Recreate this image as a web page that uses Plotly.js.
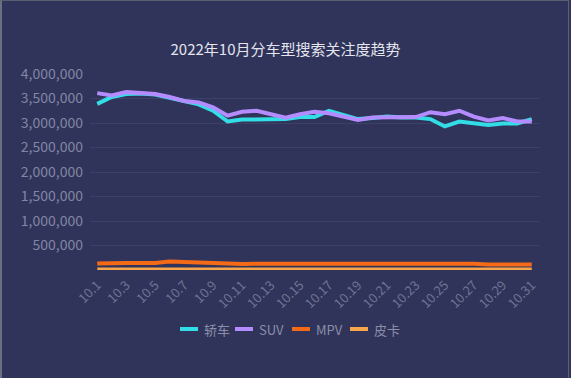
<!DOCTYPE html>
<html>
<head>
<meta charset="utf-8">
<script src="https://cdn.plot.ly/plotly-3.0.1.min.js"></script>
<style>
html,body{margin:0;padding:0;background:#30345a;}
#wrap{position:absolute;left:0;top:0;width:571px;height:378px;background:#30345a;}
#frame{position:absolute;left:0;top:0;width:566px;height:377px;border-left:2px solid #6b6f80;border-top:1px solid #5a5e70;border-right:1px solid #5d6177;pointer-events:none;}
#chart{position:absolute;left:0;top:0;width:571px;height:378px;}
</style>
</head>
<body>
<div id="wrap"><div id="chart"></div><div id="frame"></div></div>
<script>
const days = ["10.1","10.2","10.3","10.4","10.5","10.6","10.7","10.8","10.9","10.10",
  "10.11","10.12","10.13","10.14","10.15","10.16","10.17","10.18","10.19","10.20",
  "10.21","10.22","10.23","10.24","10.25","10.26","10.27","10.28","10.29","10.30","10.31"];
const tickLabels = ["10.1","10.3","10.5","10.7","10.9","10.11","10.13","10.15","10.17","10.19",
  "10.21","10.23","10.25","10.27","10.29","10.31"];
const sedan = [3390000,3530000,3590000,3600000,3580000,3510000,3430000,3380000,3250000,3030000,
  3070000,3080000,3070000,3080000,3120000,3120000,3250000,3160000,3080000,3100000,
  3130000,3110000,3110000,3080000,2930000,3030000,2990000,2960000,2990000,2990000,3080000];
const suv = [3610000,3560000,3630000,3620000,3590000,3530000,3450000,3420000,3320000,3150000,
  3230000,3250000,3180000,3110000,3180000,3230000,3200000,3130000,3060000,3110000,
  3110000,3120000,3120000,3220000,3180000,3250000,3130000,3050000,3100000,3030000,3030000];
const mpv = [132000,145000,145000,145000,145000,172000,160000,150000,145000,135000,
  122000,128000,128000,126000,128000,128000,130000,128000,126000,125000,
  125000,125000,124000,126000,130000,135000,128000,112000,110000,110000,110000];
const pickup = [22000,22000,22000,22000,22000,22000,22000,22000,22000,22000,
  22000,22000,22000,22000,22000,22000,22000,22000,22000,22000,
  22000,22000,22000,22000,22000,22000,22000,20000,20000,20000,20000];
const names = ["轿车","SUV","MPV","皮卡"];
const colors = ["#33dde6","#b48cff","#f56a16","#f5a54c"];
const series = [sedan, suv, mpv, pickup];
const widths = [4,4,4,3];

const traces = series.map((s,i)=>({
  type:"scatter", mode:"lines", x:days, y:s, name:names[i],
  line:{color:colors[i], width:widths[i]}, hoverinfo:"skip", showlegend:false
}));

// geometry of the plot area (px)
const W=571, H=378, ML=90, MR=32, MT=74, MB=108;
const PW=W-ML-MR, PH=H-MT-MB;
const px2x = p => (p-ML)/PW;
const py2y = p => (H-MB-p)/PH;

// custom legend: short thick line + label
const legendStart = [180, 235, 292, 350];
const legendY = 329, symLen = 18, gap = 4;
const shapes = names.map((n,i)=>({
  type:"line", xref:"paper", yref:"paper",
  x0:px2x(legendStart[i]), x1:px2x(legendStart[i]+symLen),
  y0:py2y(legendY), y1:py2y(legendY),
  line:{color:colors[i], width:4}
}));
const font = "'Noto Sans CJK SC','Noto Sans',sans-serif";
const annotations = names.map((n,i)=>({
  text:n, xref:"paper", yref:"paper", x:px2x(legendStart[i]+symLen+gap), y:py2y(legendY),
  xanchor:"left", yanchor:"middle", showarrow:false,
  font:{family:font, size:13, color:"#8a8ea8"}
}));

const layout = {
  width:W, height:H,
  paper_bgcolor:"#30345a", plot_bgcolor:"#30345a",
  margin:{l:ML, r:MR, t:MT, b:MB},
  font:{family:font, color:"#8a8ea8"},
  title:{text:"2022年10月分车型搜索关注度趋势", font:{family:font, size:15, color:"#e4e5ee"},
    x:0.5, xanchor:"center", xref:"container", y:1-50/378, yanchor:"middle"},
  xaxis:{type:"category", categoryorder:"array", categoryarray:days,
    range:[-0.5,30.5], tickmode:"array", tickvals:tickLabels, ticktext:tickLabels,
    tickangle:-45, showgrid:false, zeroline:false, showline:false, ticks:"",
    tickfont:{size:13, color:"#6f7394"}, ticklabelstandoff:4},
  yaxis:{range:[0,4000000], tickvals:[500000,1000000,1500000,2000000,2500000,3000000,3500000,4000000],
    tickformat:",d", gridcolor:"#3d4168", gridwidth:1, zeroline:false, showline:false, ticks:"",
    tickfont:{size:14, color:"#8286a4"}, ticklabelstandoff:6},
  showlegend:false,
  shapes:shapes,
  annotations:annotations
};
Plotly.newPlot("chart", traces, layout, {staticPlot:true, displayModeBar:false});
</script>
</body>
</html>
